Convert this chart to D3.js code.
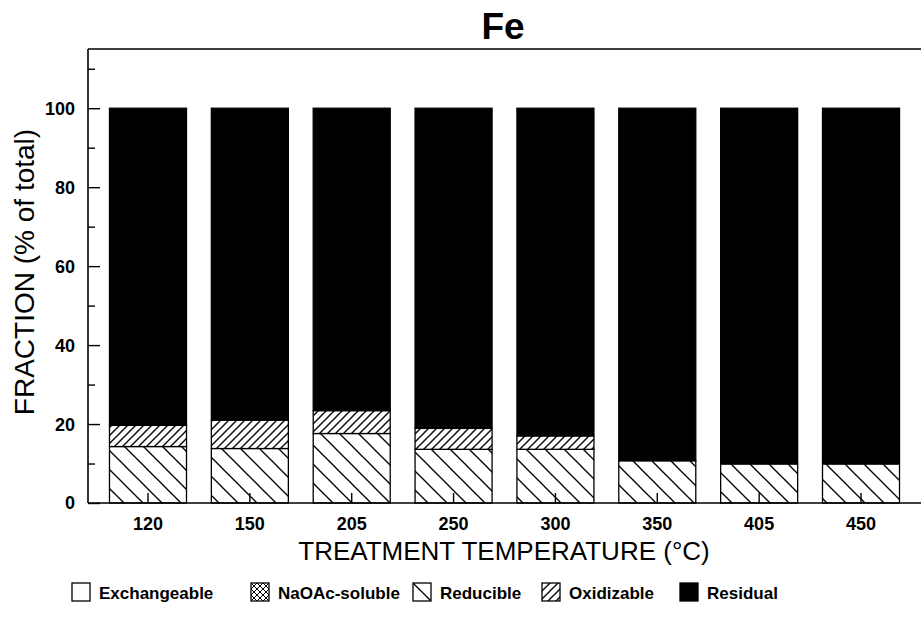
<!DOCTYPE html>
<html>
<head>
<meta charset="utf-8">
<script src="https://cdn.jsdelivr.net/npm/d3@7"></script>
<style>
  body { margin: 0; background: #fff; }
  svg { display: block; font-family: "Liberation Sans", Arial, Helvetica, sans-serif; }
</style>
</head>
<body>
<svg id="chart"></svg>
<script>
// data (% of total Fe)
var temps = ["120", "150", "205", "250", "300", "350", "405", "450"];
var exchangeable = [0, 0, 0, 0, 0, 0, 0, 0];
var naoacSoluble = [0, 0, 0, 0, 0, 0, 0, 0];
var reducible = [14.3, 13.8, 17.6, 13.6, 13.6, 10.7, 9.9, 9.9];
var oxidizable = [5.4, 7.2, 5.8, 5.3, 3.4, 0, 0, 0];
var residual = [80.3, 79.0, 76.6, 81.1, 83.0, 89.3, 90.1, 90.1];
var fractions = ["Exchangeable", "NaOAc-soluble", "Reducible", "Oxidizable", "Residual"];
var yTicks = [0, 20, 40, 60, 80, 100];

var W = 921, H = 617;
var margin = {top: 49, right: 0, bottom: 114, left: 88},
    width = W - margin.left - margin.right,
    height = H - margin.top - margin.bottom;

var svg = d3.select("#chart").attr("width", W).attr("height", H);

// hatch patterns
var defs = svg.append("defs");
function hatch(id, size, dir, sw) {
  var p = defs.append("pattern")
    .attr("id", id)
    .attr("patternUnits", "userSpaceOnUse")
    .attr("width", size).attr("height", size);
  p.append("rect").attr("width", size).attr("height", size).attr("fill", "#fff");
  var segs;
  if (dir == "back") segs = [[0, 0, size, size], [-size / 2, size / 2, size / 2, size * 1.5], [size / 2, -size / 2, size * 1.5, size / 2]];
  else segs = [[0, size, size, 0], [-size / 2, size / 2, size / 2, -size / 2], [size / 2, size * 1.5, size * 1.5, size / 2]];
  segs.forEach(function(s) {
    p.append("line").attr("x1", s[0]).attr("y1", s[1]).attr("x2", s[2]).attr("y2", s[3])
      .attr("stroke", "#000").attr("stroke-width", sw);
  });
  return "url(#" + id + ")";
}
var fillReducible = hatch("redHatch", 19, "back", 1.3);
var fillOxidizable = hatch("oxHatch", 8, "fwd", 1.3);
var cross = defs.append("pattern").attr("id", "crossHatch")
  .attr("patternUnits", "userSpaceOnUse").attr("width", 6).attr("height", 6);
cross.append("rect").attr("width", 6).attr("height", 6).attr("fill", "#fff");
cross.append("path").attr("d", "M0,0L6,6M6,0L0,6").attr("stroke", "#000").attr("stroke-width", 1);

var fills = {
  "Exchangeable": "#fff",
  "NaOAc-soluble": "url(#crossHatch)",
  "Reducible": fillReducible,
  "Oxidizable": fillOxidizable,
  "Residual": "#000"
};

var g = svg.append("g")
  .attr("transform", "translate(" + margin.left + "," + margin.top + ")");

var x = d3.scaleBand()
  .domain(temps)
  .range([0, width])
  .paddingInner(0.244)
  .paddingOuter(0.211);

var y = d3.scaleLinear()
  .domain([0, 115])
  .range([height, 0]);

// stack the fractions
var rows = temps.map(function(t, i) {
  return {
    temp: t,
    "Exchangeable": exchangeable[i],
    "NaOAc-soluble": naoacSoluble[i],
    "Reducible": reducible[i],
    "Oxidizable": oxidizable[i],
    "Residual": residual[i]
  };
});
var series = d3.stack().keys(fractions)(rows);

g.selectAll("g.layer")
  .data(series)
  .enter().append("g")
    .attr("class", "layer")
    .attr("fill", function(d) { return fills[d.key]; })
  .selectAll("rect")
  .data(function(d) { return d.filter(function(v) { return v[1] - v[0] > 0; }); })
  .enter().append("rect")
    .attr("x", function(d) { return x(d.data.temp); })
    .attr("y", function(d) { return y(d[1]); })
    .attr("width", x.bandwidth())
    .attr("height", function(d) { return y(d[0]) - y(d[1]); })
    .attr("stroke", "#000")
    .attr("stroke-width", 1.3);

// frame lines: top, left, bottom (no right side)
g.append("line").attr("x1", 0).attr("x2", width).attr("y1", 0).attr("y2", 0)
  .attr("stroke", "#000").attr("stroke-width", 1.6);

// Y axis, ticks pointing inward
var yAxis = g.append("g")
  .call(d3.axisRight(y).tickValues(yTicks).tickSize(12).tickFormat(""));
yAxis.select(".domain").attr("stroke-width", 1.6).attr("d", "M0," + height + "V0");
yAxis.selectAll(".tick line").attr("stroke-width", 1.4);
g.append("g")
  .call(d3.axisRight(y).tickValues(d3.range(10, 115, 20)).tickSize(7).tickFormat(""))
  .call(function(a) { a.select(".domain").remove(); a.selectAll(".tick line").attr("stroke-width", 1.4); });

g.selectAll("text.ylab")
  .data(yTicks)
  .enter().append("text")
    .attr("class", "ylab")
    .attr("x", -13)
    .attr("y", function(d) { return y(d); })
    .attr("dy", "0.36em")
    .attr("text-anchor", "end")
    .attr("font-size", 18)
    .attr("font-weight", "bold")
    .text(function(d) { return d; });

// X axis, ticks pointing up into the bars
var xAxis = g.append("g")
  .attr("transform", "translate(0," + height + ")")
  .call(d3.axisTop(x).tickSize(10).tickFormat(""));
xAxis.select(".domain").attr("stroke-width", 1.6).attr("d", "M0,0H" + width);
xAxis.selectAll(".tick line").attr("stroke-width", 1.4);

g.selectAll("text.xlab")
  .data(temps)
  .enter().append("text")
    .attr("class", "xlab")
    .attr("x", function(d) { return x(d) + x.bandwidth() / 2; })
    .attr("y", height + 27)
    .attr("text-anchor", "middle")
    .attr("font-size", 18)
    .attr("font-weight", "bold")
    .text(function(d) { return d; });

// titles
svg.append("text")
  .attr("x", 503).attr("y", 39)
  .attr("text-anchor", "middle")
  .attr("font-size", 37)
  .attr("font-weight", "bold")
  .text("Fe");

svg.append("text")
  .attr("x", 504).attr("y", 560)
  .attr("text-anchor", "middle")
  .attr("font-size", 26)
  .text("TREATMENT TEMPERATURE (°C)");

svg.append("text")
  .attr("transform", "translate(34,272) rotate(-90)")
  .attr("text-anchor", "middle")
  .attr("font-size", 28)
  .text("FRACTION (% of total)");

// legend
var legendX = [72, 251, 413, 542, 680];
var legend = svg.selectAll("g.legend")
  .data(fractions)
  .enter().append("g")
    .attr("class", "legend")
    .attr("transform", function(d, i) { return "translate(" + legendX[i] + ",583)"; });
legend.append("rect")
  .attr("width", 18).attr("height", 18)
  .attr("fill", function(d) { return fills[d]; })
  .attr("stroke", "#000").attr("stroke-width", 1.3);
legend.append("text")
  .attr("x", 27).attr("y", 16)
  .attr("font-size", 17)
  .attr("font-weight", "bold")
  .text(function(d) { return d; });
</script>
</body>
</html>
